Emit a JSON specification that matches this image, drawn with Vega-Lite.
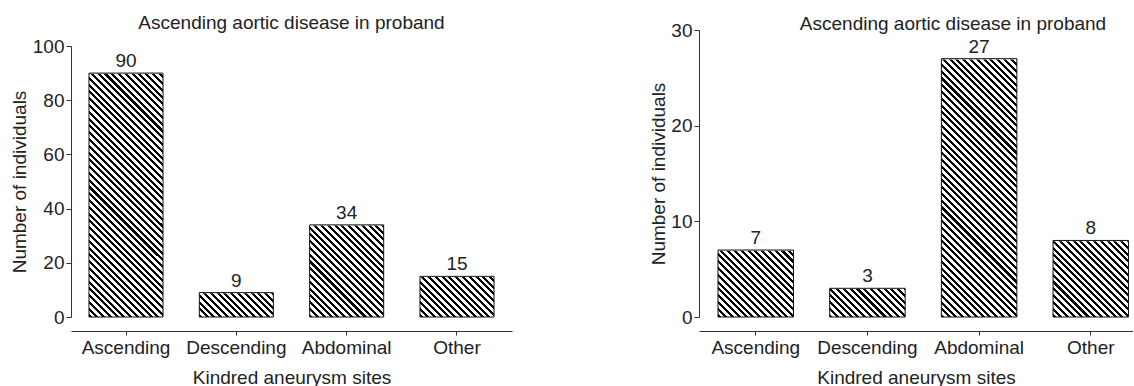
{
  "$schema": "https://vega.github.io/schema/vega-lite/v6.json",
  "padding": {"left": 10, "top": 14, "right": 0, "bottom": 0},
  "spacing": 137,
  "params": [
    {"name": "hs", "value": [
      {"offset":0,"color":"#000"},{"offset":0.009,"color":"#000"},{"offset":0.009,"color":"#fff"},{"offset":0.02,"color":"#fff"},
      {"offset":0.02,"color":"#000"},{"offset":0.029,"color":"#000"},{"offset":0.029,"color":"#fff"},{"offset":0.04,"color":"#fff"},
      {"offset":0.04,"color":"#000"},{"offset":0.049,"color":"#000"},{"offset":0.049,"color":"#fff"},{"offset":0.06,"color":"#fff"},
      {"offset":0.06,"color":"#000"},{"offset":0.069,"color":"#000"},{"offset":0.069,"color":"#fff"},{"offset":0.08,"color":"#fff"},
      {"offset":0.08,"color":"#000"},{"offset":0.089,"color":"#000"},{"offset":0.089,"color":"#fff"},{"offset":0.1,"color":"#fff"},
      {"offset":0.1,"color":"#000"},{"offset":0.109,"color":"#000"},{"offset":0.109,"color":"#fff"},{"offset":0.12,"color":"#fff"},
      {"offset":0.12,"color":"#000"},{"offset":0.129,"color":"#000"},{"offset":0.129,"color":"#fff"},{"offset":0.14,"color":"#fff"},
      {"offset":0.14,"color":"#000"},{"offset":0.149,"color":"#000"},{"offset":0.149,"color":"#fff"},{"offset":0.16,"color":"#fff"},
      {"offset":0.16,"color":"#000"},{"offset":0.169,"color":"#000"},{"offset":0.169,"color":"#fff"},{"offset":0.18,"color":"#fff"},
      {"offset":0.18,"color":"#000"},{"offset":0.189,"color":"#000"},{"offset":0.189,"color":"#fff"},{"offset":0.2,"color":"#fff"},
      {"offset":0.2,"color":"#000"},{"offset":0.209,"color":"#000"},{"offset":0.209,"color":"#fff"},{"offset":0.22,"color":"#fff"},
      {"offset":0.22,"color":"#000"},{"offset":0.229,"color":"#000"},{"offset":0.229,"color":"#fff"},{"offset":0.24,"color":"#fff"},
      {"offset":0.24,"color":"#000"},{"offset":0.249,"color":"#000"},{"offset":0.249,"color":"#fff"},{"offset":0.26,"color":"#fff"},
      {"offset":0.26,"color":"#000"},{"offset":0.269,"color":"#000"},{"offset":0.269,"color":"#fff"},{"offset":0.28,"color":"#fff"},
      {"offset":0.28,"color":"#000"},{"offset":0.289,"color":"#000"},{"offset":0.289,"color":"#fff"},{"offset":0.3,"color":"#fff"},
      {"offset":0.3,"color":"#000"},{"offset":0.309,"color":"#000"},{"offset":0.309,"color":"#fff"},{"offset":0.32,"color":"#fff"},
      {"offset":0.32,"color":"#000"},{"offset":0.329,"color":"#000"},{"offset":0.329,"color":"#fff"},{"offset":0.34,"color":"#fff"},
      {"offset":0.34,"color":"#000"},{"offset":0.349,"color":"#000"},{"offset":0.349,"color":"#fff"},{"offset":0.36,"color":"#fff"},
      {"offset":0.36,"color":"#000"},{"offset":0.369,"color":"#000"},{"offset":0.369,"color":"#fff"},{"offset":0.38,"color":"#fff"},
      {"offset":0.38,"color":"#000"},{"offset":0.389,"color":"#000"},{"offset":0.389,"color":"#fff"},{"offset":0.4,"color":"#fff"},
      {"offset":0.4,"color":"#000"},{"offset":0.409,"color":"#000"},{"offset":0.409,"color":"#fff"},{"offset":0.42,"color":"#fff"},
      {"offset":0.42,"color":"#000"},{"offset":0.429,"color":"#000"},{"offset":0.429,"color":"#fff"},{"offset":0.44,"color":"#fff"},
      {"offset":0.44,"color":"#000"},{"offset":0.449,"color":"#000"},{"offset":0.449,"color":"#fff"},{"offset":0.46,"color":"#fff"},
      {"offset":0.46,"color":"#000"},{"offset":0.469,"color":"#000"},{"offset":0.469,"color":"#fff"},{"offset":0.48,"color":"#fff"},
      {"offset":0.48,"color":"#000"},{"offset":0.489,"color":"#000"},{"offset":0.489,"color":"#fff"},{"offset":0.5,"color":"#fff"},
      {"offset":0.5,"color":"#000"},{"offset":0.509,"color":"#000"},{"offset":0.509,"color":"#fff"},{"offset":0.52,"color":"#fff"},
      {"offset":0.52,"color":"#000"},{"offset":0.529,"color":"#000"},{"offset":0.529,"color":"#fff"},{"offset":0.54,"color":"#fff"},
      {"offset":0.54,"color":"#000"},{"offset":0.549,"color":"#000"},{"offset":0.549,"color":"#fff"},{"offset":0.56,"color":"#fff"},
      {"offset":0.56,"color":"#000"},{"offset":0.569,"color":"#000"},{"offset":0.569,"color":"#fff"},{"offset":0.58,"color":"#fff"},
      {"offset":0.58,"color":"#000"},{"offset":0.589,"color":"#000"},{"offset":0.589,"color":"#fff"},{"offset":0.6,"color":"#fff"},
      {"offset":0.6,"color":"#000"},{"offset":0.609,"color":"#000"},{"offset":0.609,"color":"#fff"},{"offset":0.62,"color":"#fff"},
      {"offset":0.62,"color":"#000"},{"offset":0.629,"color":"#000"},{"offset":0.629,"color":"#fff"},{"offset":0.64,"color":"#fff"},
      {"offset":0.64,"color":"#000"},{"offset":0.649,"color":"#000"},{"offset":0.649,"color":"#fff"},{"offset":0.66,"color":"#fff"},
      {"offset":0.66,"color":"#000"},{"offset":0.669,"color":"#000"},{"offset":0.669,"color":"#fff"},{"offset":0.68,"color":"#fff"},
      {"offset":0.68,"color":"#000"},{"offset":0.689,"color":"#000"},{"offset":0.689,"color":"#fff"},{"offset":0.7,"color":"#fff"},
      {"offset":0.7,"color":"#000"},{"offset":0.709,"color":"#000"},{"offset":0.709,"color":"#fff"},{"offset":0.72,"color":"#fff"},
      {"offset":0.72,"color":"#000"},{"offset":0.729,"color":"#000"},{"offset":0.729,"color":"#fff"},{"offset":0.74,"color":"#fff"},
      {"offset":0.74,"color":"#000"},{"offset":0.749,"color":"#000"},{"offset":0.749,"color":"#fff"},{"offset":0.76,"color":"#fff"},
      {"offset":0.76,"color":"#000"},{"offset":0.769,"color":"#000"},{"offset":0.769,"color":"#fff"},{"offset":0.78,"color":"#fff"},
      {"offset":0.78,"color":"#000"},{"offset":0.789,"color":"#000"},{"offset":0.789,"color":"#fff"},{"offset":0.8,"color":"#fff"},
      {"offset":0.8,"color":"#000"},{"offset":0.809,"color":"#000"},{"offset":0.809,"color":"#fff"},{"offset":0.82,"color":"#fff"},
      {"offset":0.82,"color":"#000"},{"offset":0.829,"color":"#000"},{"offset":0.829,"color":"#fff"},{"offset":0.84,"color":"#fff"},
      {"offset":0.84,"color":"#000"},{"offset":0.849,"color":"#000"},{"offset":0.849,"color":"#fff"},{"offset":0.86,"color":"#fff"},
      {"offset":0.86,"color":"#000"},{"offset":0.869,"color":"#000"},{"offset":0.869,"color":"#fff"},{"offset":0.88,"color":"#fff"},
      {"offset":0.88,"color":"#000"},{"offset":0.889,"color":"#000"},{"offset":0.889,"color":"#fff"},{"offset":0.9,"color":"#fff"},
      {"offset":0.9,"color":"#000"},{"offset":0.909,"color":"#000"},{"offset":0.909,"color":"#fff"},{"offset":0.92,"color":"#fff"},
      {"offset":0.92,"color":"#000"},{"offset":0.929,"color":"#000"},{"offset":0.929,"color":"#fff"},{"offset":0.94,"color":"#fff"},
      {"offset":0.94,"color":"#000"},{"offset":0.949,"color":"#000"},{"offset":0.949,"color":"#fff"},{"offset":0.96,"color":"#fff"},
      {"offset":0.96,"color":"#000"},{"offset":0.969,"color":"#000"},{"offset":0.969,"color":"#fff"},{"offset":0.98,"color":"#fff"},
      {"offset":0.98,"color":"#000"},{"offset":0.989,"color":"#000"},{"offset":0.989,"color":"#fff"},{"offset":1,"color":"#fff"}
    ]}
  ],
  "hconcat": [
    {
      "width": 441,
      "height": 287,
      "title": {"text": "Ascending aortic disease in proband", "offset": -3},
      "data": {"values": [
        {"site": "Ascending", "n": 90},
        {"site": "Descending", "n": 9},
        {"site": "Abdominal", "n": 34},
        {"site": "Other", "n": 15}
      ]},
      "encoding": {
        "x": {"field": "site", "type": "nominal", "sort": null,
              "scale": {"paddingInner": 0.329, "paddingOuter": 0.163},
              "axis": {"title": "Kindred aneurysm sites"}}
      },
      "layer": [
        {
          "mark": {"type": "bar", "fill": {"expr": "{gradient: 'linear', x1: 0, y1: 1, x2: 0.31828, y2: -0.16561, stops: hs}"}},
          "encoding": {
            "y": {"datum": 100, "type": "quantitative",
                  "scale": {"domain": [0, 100], "range": [287, 16], "nice": false},
                  "axis": {"title": "Number of individuals", "values": [0, 20, 40, 60, 80, 100], "titlePadding": 3}},
            "y2": {"datum": 0}
          }
        },
        {
          "mark": {"type": "bar", "fill": "white", "stroke": "white", "strokeWidth": 1.5},
          "encoding": {
            "y": {"field": "n", "type": "quantitative", "title": "Number of individuals"},
            "y2": {"datum": 100}
          }
        },
        {
          "mark": {"type": "bar", "fillOpacity": 0, "stroke": "#111", "strokeWidth": 1},
          "encoding": {
            "y": {"field": "n", "type": "quantitative", "title": "Number of individuals"},
            "y2": {"datum": 0}
          }
        },
        {
          "mark": {"type": "text", "baseline": "alphabetic", "dy": -6, "fontSize": 19, "color": "#222"},
          "encoding": {
            "y": {"field": "n", "type": "quantitative", "title": "Number of individuals"},
            "text": {"field": "n", "type": "quantitative"}
          }
        }
      ]
    },
    {
      "width": 434,
      "height": 287,
      "title": {"text": "Ascending aortic disease in proband", "offset": -13, "dx": 37},
      "data": {"values": [
        {"site": "Ascending", "n": 7},
        {"site": "Descending", "n": 3},
        {"site": "Abdominal", "n": 27},
        {"site": "Other", "n": 8}
      ]},
      "encoding": {
        "x": {"field": "site", "type": "nominal", "sort": null,
              "scale": {"paddingInner": 0.324, "paddingOuter": 0.105, "align": 0.81},
              "axis": {"title": "Kindred aneurysm sites"}}
      },
      "layer": [
        {
          "mark": {"type": "bar", "fill": {"expr": "{gradient: 'linear', x1: 0, y1: 1, x2: 0.29097, y2: -0.10607, stops: hs}"}},
          "encoding": {
            "y": {"datum": 30, "type": "quantitative",
                  "scale": {"domain": [0, 30], "nice": false},
                  "axis": {"title": "Number of individuals", "values": [0, 10, 20, 30], "titlePadding": 2}},
            "y2": {"datum": 0}
          }
        },
        {
          "mark": {"type": "bar", "fill": "white", "stroke": "white", "strokeWidth": 1.5},
          "encoding": {
            "y": {"field": "n", "type": "quantitative", "title": "Number of individuals"},
            "y2": {"datum": 30}
          }
        },
        {
          "mark": {"type": "bar", "fillOpacity": 0, "stroke": "#111", "strokeWidth": 1},
          "encoding": {
            "y": {"field": "n", "type": "quantitative", "title": "Number of individuals"},
            "y2": {"datum": 0}
          }
        },
        {
          "mark": {"type": "text", "baseline": "alphabetic", "dy": -6, "fontSize": 19, "color": "#222"},
          "encoding": {
            "y": {"field": "n", "type": "quantitative", "title": "Number of individuals"},
            "text": {"field": "n", "type": "quantitative"}
          }
        }
      ]
    }
  ],
  "config": {
    "font": "Liberation Sans",
    "view": {"stroke": null},
    "axis": {
      "labelFont": "Liberation Sans", "labelFontSize": 19, "labelColor": "#222",
      "titleFont": "Liberation Sans", "titleFontSize": 19, "titleFontWeight": "normal", "titleColor": "#222",
      "domainColor": "#333", "tickColor": "#333", "grid": false
    },
    "axisX": {"offset": 14, "tickSize": 4, "labelPadding": 3, "titlePadding": 11, "labelAngle": 0},
    "axisY": {"tickSize": 5, "labelPadding": 2},
    "title": {"font": "Liberation Sans", "fontSize": 19, "fontWeight": "normal", "color": "#222",
              "frame": "group", "anchor": "middle", "baseline": "alphabetic"}
  }
}
